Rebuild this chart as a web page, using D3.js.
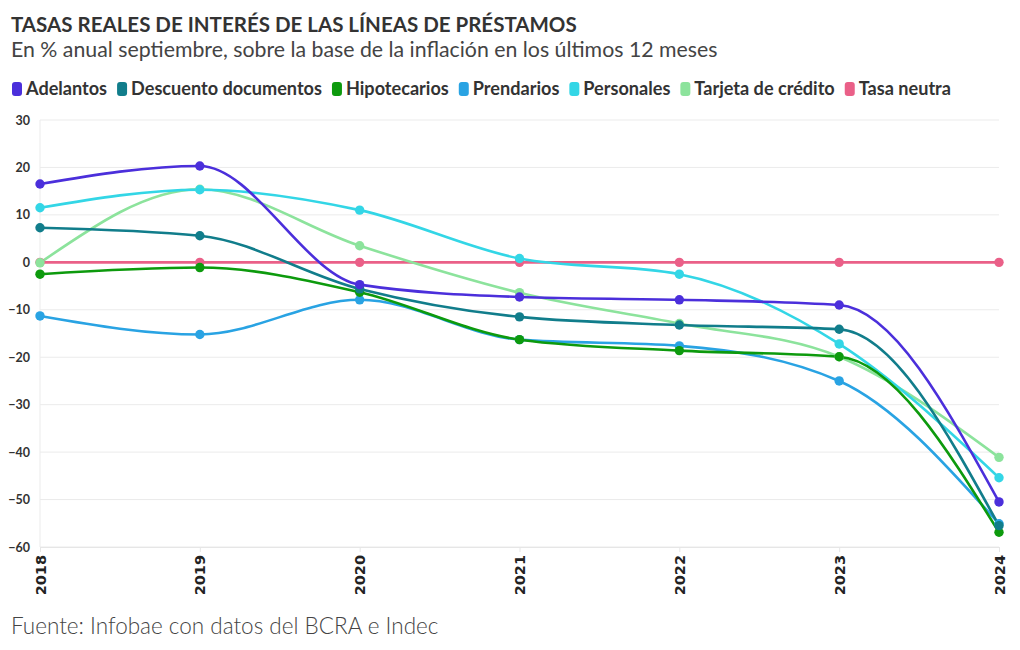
<!DOCTYPE html>
<html><head><meta charset="utf-8">
<script src="https://cdn.jsdelivr.net/npm/d3@7"></script>
<style>
body{margin:0;background:#fff;}
svg{display:block;}
</style></head>
<body>
<svg id="c" width="1020" height="650"></svg>
<script>
const years = [2018, 2019, 2020, 2021, 2022, 2023, 2024];
const seriesNames = ["Adelantos", "Descuento documentos", "Hipotecarios", "Prendarios", "Personales", "Tarjeta de crédito", "Tasa neutra"];
const seriesColors = ["#4b2fdb", "#117d8b", "#0d9a0d", "#29a3e3", "#33d6e6", "#8ce39c", "#ea6088"];
const adelantos = [16.5, 20.3, -4.7, -7.3, -7.9, -9.0, -50.5];
const descuento = [7.3, 5.6, -5.6, -11.5, -13.2, -14.1, -55.5];
const hipotecarios = [-2.5, -1.1, -6.3, -16.3, -18.6, -19.9, -56.9];
const prendarios = [-11.3, -15.2, -7.9, -16.3, -17.6, -25.0, -55.1];
const personales = [11.5, 15.3, 11.0, 0.8, -2.5, -17.2, -45.4];
const tarjeta = [-0.1, 15.4, 3.5, -6.4, -12.9, -19.9, -41.1];
const neutra = [0, 0, 0, 0, 0, 0, 0];
const yTicks = [30, 20, 10, 0, -10, -20, -30, -40, -50, -60];
const allValues = [adelantos, descuento, hipotecarios, prendarios, personales, tarjeta, neutra];

const svg = d3.select("#c");
const fontMain = "'Lato', 'Noto Sans', sans-serif";

svg.append("text").attr("x", 11).attr("y", 32)
  .attr("font-family", fontMain).attr("font-weight", 700).attr("font-size", 20.5)
  .attr("fill", "#333").text("TASAS REALES DE INTERÉS DE LAS LÍNEAS DE PRÉSTAMOS");
svg.append("text").attr("x", 11).attr("y", 57)
  .attr("font-family", fontMain).attr("font-size", 21.3)
  .attr("fill", "#444").text("En % anual septiembre, sobre la base de la inflación en los últimos 12 meses");

// legend
let lx = 12;
seriesNames.forEach((n, i) => {
  const g = svg.append("g");
  g.append("rect").attr("x", lx).attr("y", 82).attr("width", 10).attr("height", 14)
    .attr("rx", 3).attr("fill", seriesColors[i]);
  const t = g.append("text").attr("x", lx + 14).attr("y", 95)
    .attr("font-family", fontMain).attr("font-weight", 700).attr("font-size", 18.1)
    .attr("fill", "#333").text(n);
  lx += 14 + t.node().getComputedTextLength() + 10;
});

const x = d3.scalePoint().domain(years).range([40, 999]);
const y = d3.scaleLinear().domain([-60, 30]).range([547, 120]);

// grid
svg.append("g").selectAll("line").data(yTicks).join("line")
  .attr("x1", 40).attr("x2", 999).attr("y1", d => y(d)).attr("y2", d => y(d))
  .attr("stroke", "#ebebeb").attr("stroke-width", 1);
svg.append("line").attr("x1", 40).attr("x2", 40).attr("y1", 120).attr("y2", 547)
  .attr("stroke", "#ebebeb");

// y axis labels
const yAxis = d3.axisLeft(y).tickValues(yTicks).tickSize(0).tickPadding(10);
const gy = svg.append("g").attr("transform", "translate(40,0)").call(yAxis);
gy.select(".domain").remove();
gy.selectAll("text").attr("font-family", fontMain).attr("font-weight", 700)
  .attr("font-size", 12.5).attr("fill", "#333");

// x axis
const xAxis = d3.axisBottom(x).tickSize(5).tickPadding(6);
const gx = svg.append("g").attr("transform", "translate(0,547)").call(xAxis);
gx.select(".domain").attr("stroke", "#e6e6e6");
gx.selectAll(".tick line").attr("stroke", "#e6e6e6");
gx.selectAll("text").attr("font-family", "'DejaVu Sans', sans-serif").attr("font-weight", 700)
  .attr("font-size", 14.5).attr("fill", "#222")
  .attr("transform", "rotate(-90)").attr("text-anchor", "end")
  .attr("x", 0).attr("y", 0).attr("dx", "-8px").attr("dy", "0")
  .style("dominant-baseline", "central");

// lines
const line = d3.line().x((d, i) => x(years[i])).y(d => y(d)).curve(d3.curveMonotoneX);
const order = [6, 5, 4, 3, 2, 1, 0];
order.forEach(i => {
  svg.append("path").datum(allValues[i]).attr("d", line)
    .attr("fill", "none").attr("stroke", seriesColors[i]).attr("stroke-width", 2.6);
});
order.forEach(i => {
  svg.append("g").selectAll("circle").data(allValues[i]).join("circle")
    .attr("cx", (d, j) => x(years[j])).attr("cy", d => y(d)).attr("r", 4.7)
    .attr("fill", seriesColors[i]);
});

svg.append("text").attr("x", 11).attr("y", 634)
  .attr("font-family", fontMain).attr("font-weight", 300).attr("font-size", 22.5)
  .attr("fill", "#444").text("Fuente: Infobae con datos del BCRA e Indec");
</script>
</body></html>
